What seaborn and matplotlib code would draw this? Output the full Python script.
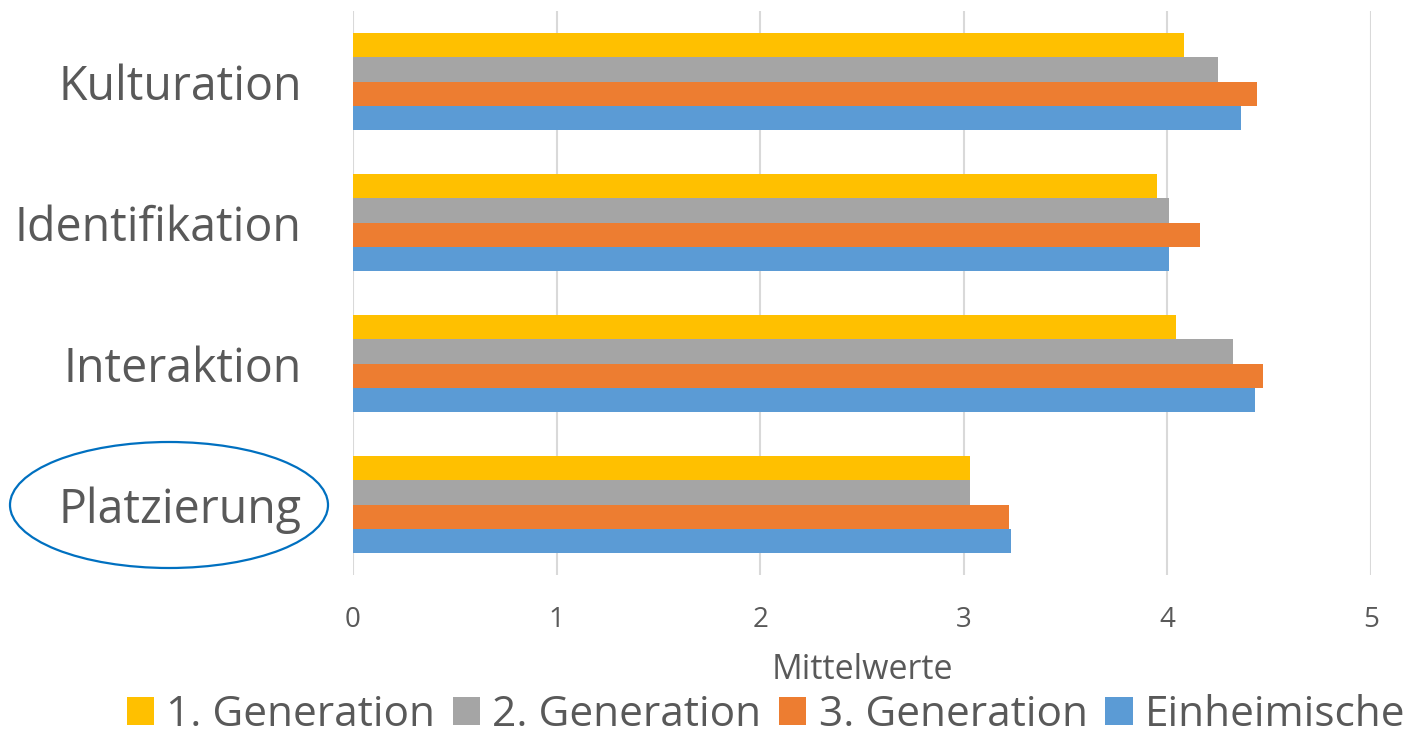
import matplotlib
matplotlib.use("Agg")
import matplotlib.pyplot as plt
from matplotlib.patches import Ellipse
import pandas as pd
import seaborn as sns

# Integrationsdimensionen und Mittelwerte je Gruppe
dimensions = ["Kulturation", "Identifikation", "Interaktion", "Platzierung"]
groups = ["1. Generation", "2. Generation", "3. Generation", "Einheimische"]
gen1 = [4.08, 3.95, 4.04, 3.03]
gen2 = [4.25, 4.01, 4.32, 3.03]
gen3 = [4.44, 4.16, 4.47, 3.22]
native = [4.36, 4.01, 4.43, 3.23]
x_ticks = [0, 1, 2, 3, 4, 5]
colors = ["#FFC000", "#A5A5A5", "#ED7D31", "#5B9BD5"]

rows = []
for grp, vals in zip(groups, [gen1, gen2, gen3, native]):
    for dim, v in zip(dimensions, vals):
        rows.append({"Dimension": dim, "Gruppe": grp, "Mittelwert": v})
df = pd.DataFrame(rows)

sns.set_theme(style="white")
plt.rcParams["font.family"] = ["Open Sans", "DejaVu Sans"]

text_color = "#595959"
fig = plt.figure(figsize=(14.1, 7.34), dpi=100)
ax = fig.add_axes([353 / 1410, 1 - 575 / 734, (1371 - 353) / 1410, (575 - 11) / 734])

sns.barplot(
    data=df, y="Dimension", x="Mittelwert", hue="Gruppe",
    order=dimensions, hue_order=groups, palette=colors, saturation=1,
    orient="h", width=0.69, linewidth=0, ax=ax, legend=True,
)

ax.set_xlim(0, 5)
ax.set_ylim(len(dimensions) - 0.5, -0.5)
ax.set_xticks(x_ticks)
ax.set_xticklabels([str(t) for t in x_ticks])
ax.xaxis.grid(True, color="#D9D9D9", linewidth=1.5)
ax.yaxis.grid(False)
ax.set_axisbelow(True)
for s in ax.spines.values():
    s.set_visible(False)

ax.tick_params(axis="y", length=0, pad=37, labelsize=33.5, labelcolor=text_color)
ax.tick_params(axis="x", length=0, pad=22, labelsize=20, labelcolor=text_color)
ax.set_ylabel("")
ax.set_xlabel("Mittelwerte", fontsize=24.5, color=text_color, labelpad=14)

# Legende unter der Achse
handles, labels = ax.get_legend_handles_labels()
ax.get_legend().remove()
fig.legend(
    handles, labels, loc="center", bbox_to_anchor=(766 / 1410, 1 - 715 / 734),
    ncol=4, frameon=False, fontsize=30.5, labelcolor=text_color,
    handlelength=0.64, handleheight=0.64, handletextpad=0.29, columnspacing=0.42,
    borderpad=0, borderaxespad=0,
)

# Hervorhebung der Dimension "Platzierung"
fig.patches.append(Ellipse(
    (169 / 1410, 1 - 505 / 734), 318 / 1410, 126 / 734,
    transform=fig.transFigure, fill=False, edgecolor="#0070C0", linewidth=1.6,
))

fig.savefig("out.png", dpi=100)
